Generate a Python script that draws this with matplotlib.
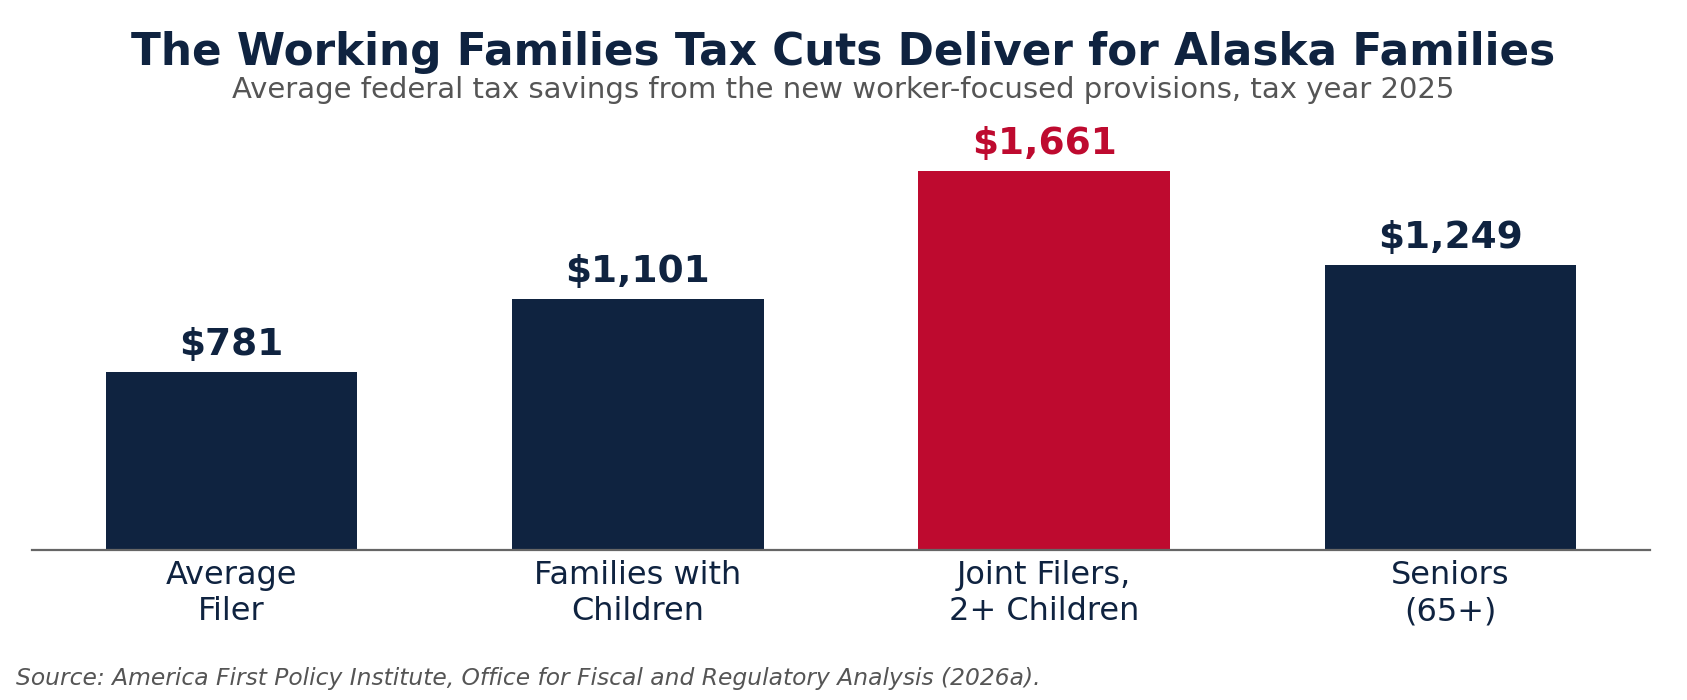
import matplotlib
matplotlib.use("Agg")
import matplotlib.pyplot as plt

categories = ["Average\nFiler", "Families with\nChildren", "Joint Filers,\n2+ Children", "Seniors\n(65+)"]
values = [781, 1101, 1661, 1249]
labels = ["$781", "$1,101", "$1,661", "$1,249"]
highlight = [False, False, True, False]

NAVY = "#0F2340"
RED = "#BE0A2F"

plt.rcParams['font.family'] = ['DejaVu Sans']
W, H = 1687, 700
fig = plt.figure(figsize=(W / 100, H / 100), dpi=100)
ymax = 1661 * 1.20
axh = 379 * 1.20
ax = fig.add_axes([32 / W, 150 / H, (1650 - 32) / W, axh / H])

colors = [RED if h else NAVY for h in highlight]
x = list(range(len(categories)))
ax.bar(x, values, width=0.62, color=colors, zorder=2)
ax.set_ylim(0, ymax)

for xi, v, lab, c in zip(x, values, labels, colors):
    ax.annotate(lab, (xi, v), xytext=(0, 6.5), textcoords="offset points",
                ha="center", va="bottom", fontsize=27, fontweight="bold", color=c)

ax.set_xticks(x)
ax.set_xticklabels(categories, fontsize=23, color=NAVY, linespacing=1.22)
ax.tick_params(axis="x", length=0, pad=7)
ax.set_yticks([])
for s in ["top", "right", "left"]:
    ax.spines[s].set_visible(False)
ax.spines["bottom"].set_color("#666666")
ax.spines["bottom"].set_linewidth(1.6)

fig.text(0.5, 1 - 52 / H, "The Working Families Tax Cuts Deliver for Alaska Families",
         ha="center", va="center", fontsize=31.5, fontweight="bold", color=NAVY)
fig.text(0.5, 1 - 90 / H, "Average federal tax savings from the new worker-focused provisions, tax year 2025",
         ha="center", va="center", fontsize=21, color="#555555")
fig.text(16 / W, 1 - 679 / H, "Source: America First Policy Institute, Office for Fiscal and Regulatory Analysis (2026a).",
         ha="left", va="center", fontsize=16.8, style="italic", color="#555555")

fig.savefig("out.png", dpi=100)
